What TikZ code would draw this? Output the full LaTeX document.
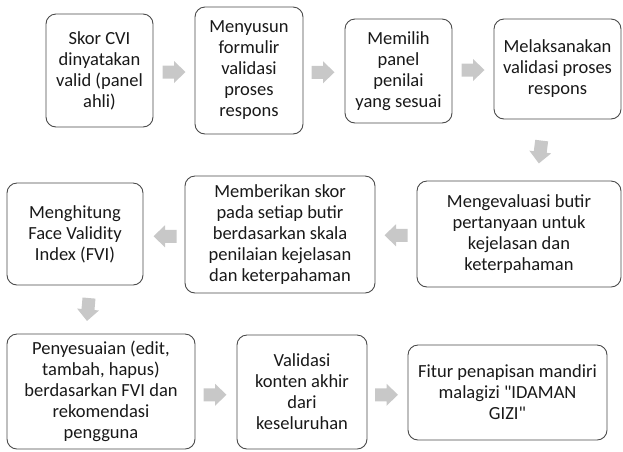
\documentclass[tikz,border=0pt]{standalone}
\usepackage{fontspec}
\setmainfont{Carlito}[Ligatures=TeXOff]
\usetikzlibrary{calc}
\definecolor{boxline}{HTML}{4A4A4A}
\definecolor{arrowfill}{HTML}{C8C8C8}
\begin{document}
\begin{tikzpicture}[x=1pt,y=-1pt,
  box/.style={draw=boxline, line width=0.9pt, rounded corners=10pt, fill=white,
    align=center, inner sep=2pt, font=\fontsize{18.5}{21}\selectfont, text=black!90},
  barrow/.pic={\fill[arrowfill] (-11.5,-6.5) -- (0,-6.5) -- (0,-11) -- (11.5,0) -- (0,11) -- (0,6.5) -- (-11.5,6.5) -- cycle;}]
\useasboundingbox (0,0) rectangle (623,451);
% row 1
\node[box, minimum width=107pt, minimum height=113pt] (b1) at (99.5,70.5) {Skor CVI\\dinyatakan\\valid (panel\\ahli)};
\node[box, minimum width=108pt, minimum height=127pt] (b2) at (249,70.5) {Menyusun\\formulir\\validasi\\proses\\respons};
\node[box, minimum width=107pt, minimum height=104pt] (b3) at (398.5,71) {Memilih\\panel\\penilai\\yang sesuai};
\node[box, minimum width=127pt, minimum height=100pt] (b4) at (557.5,69) {Melaksanakan\\validasi proses\\respons};
% row 2
\node[box, minimum width=136pt, minimum height=102pt] (b5) at (75,234) {Menghitung\\Face Validity\\Index (FVI)};
\node[box, minimum width=190pt, minimum height=117pt] (b6) at (280,234.5) {Memberikan skor\\pada setiap butir\\berdasarkan skala\\penilaian kejelasan\\dan keterpahaman};
\node[box, minimum width=204pt, minimum height=106pt] (b7) at (519,234) {Mengevaluasi butir\\pertanyaan untuk\\kejelasan dan\\keterpahaman};
% row 3
\node[box, minimum width=188pt, minimum height=115pt] (b8) at (101,391.5) {Penyesuaian (edit,\\tambah, hapus)\\berdasarkan FVI dan\\rekomendasi\\pengguna};
\node[box, minimum width=130pt, minimum height=114pt] (b9) at (302,392) {Validasi\\konten akhir\\dari\\keseluruhan};
\node[box, minimum width=199pt, minimum height=95pt] (b10) at (507.5,392.5) {Fitur penapisan mandiri\\malagizi "IDAMAN\\GIZI"};
% block arrows
\pic at ($(b1.east)!0.5!(b2.west)+(0,1.5)$) {barrow};
\pic at ($(b2.east)!0.5!(b3.west)+(-1,1.5)$) {barrow};
\pic at ($(b3.east)!0.5!(b4.west)$) {barrow};
\pic[rotate=-97] at ($(b4.south)!0.5!(b7.north)+(2,2)$) {barrow};
\pic[rotate=180] at ($(b7.west)!0.5!(b6.east)+(0,1)$) {barrow};
\pic[rotate=180] at ($(b6.west)!0.5!(b5.east)+(1,2)$) {barrow};
\pic[rotate=-95] at ($(b5.south)!0.5!(b8.north)$) {barrow};
\pic at ($(b8.east)!0.5!(b9.west)+(-1,3)$) {barrow};
\pic at ($(b9.east)!0.5!(b10.west)+(-1,2.5)$) {barrow};
\end{tikzpicture}
\end{document}
